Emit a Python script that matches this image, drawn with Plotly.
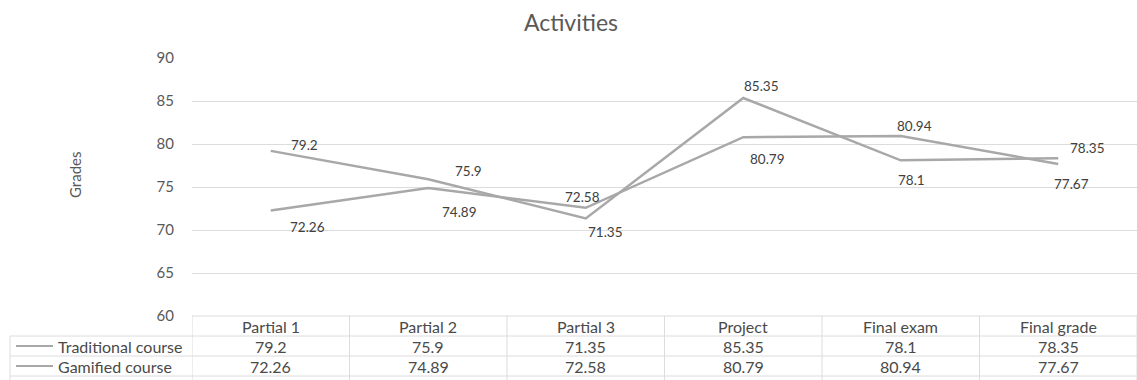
import plotly.graph_objects as go

categories = ["Partial 1", "Partial 2", "Partial 3", "Project", "Final exam", "Final grade"]
series_names = ["Traditional course", "Gamified course"]
traditional = [79.2, 75.9, 71.35, 85.35, 78.1, 78.35]
gamified = [72.26, 74.89, 72.58, 80.79, 80.94, 77.67]
y_ticks = [60, 65, 70, 75, 80, 85, 90]

W, H = 1137, 380
ML, MR, MT, MB = 192, 0, 58, 64
PH = H - MT - MB
PW = W - ML - MR

LINE = "#a8a8a8"
GRID = "#dcdcdc"
TXT = "#404040"
FONT = "Lato"

# label offsets (px) per point: (dx, dy up)
trad_off = [(34, 6), (40, 8), (20, -14), (18, 12), (11, -20), (29, 10)]
gam_off = [(37, -16), (31, -24), (-3, 11), (24, -22), (14, 10), (13, -20)]

fig = go.Figure()
idx = list(range(len(categories)))
for name, vals in zip(series_names, [traditional, gamified]):
    fig.add_trace(go.Scatter(x=idx, y=vals, mode="lines", name=name,
                             line=dict(color=LINE, width=2.5), showlegend=False))

ann = []
for vals, offs in [(traditional, trad_off), (gamified, gam_off)]:
    for i, (v, (dx, dy)) in enumerate(zip(vals, offs)):
        ann.append(dict(x=i, y=v, xref="x", yref="y", text=str(v), showarrow=False,
                        xshift=dx, yshift=dy, xanchor="center", yanchor="middle",
                        font=dict(family=FONT, size=13.5, color=TXT)))

def py(pix):
    return (H - MB - pix) / PH

def px(pix):
    return (pix - ML) / PW

TFONT = dict(family=FONT, size=16, color="#4a4a4a")
shapes = []
row_tops = [316, 336, 356, 376]
n = len(categories)
shapes.append(dict(type="line", xref="x", yref="paper", x0=-0.5, x1=n - 0.5,
                   y0=py(316), y1=py(316), line=dict(color=GRID, width=1)))
for yy in row_tops[1:]:
    shapes.append(dict(type="line", xref="paper", yref="paper", x0=px(10), x1=1,
                       y0=py(yy), y1=py(yy), line=dict(color=GRID, width=1)))
for k in range(n + 1):
    shapes.append(dict(type="line", xref="x", yref="paper", x0=k - 0.5, x1=k - 0.5,
                       y0=py(316), y1=py(390), line=dict(color=GRID, width=1)))
shapes.append(dict(type="line", xref="paper", yref="paper", x0=px(10), x1=px(10),
                   y0=py(336), y1=py(390), line=dict(color=GRID, width=1)))

for i, c in enumerate(categories):
    ann.append(dict(x=i, y=py(326), xref="x", yref="paper", text=c, showarrow=False,
                    xanchor="center", yanchor="middle", font=TFONT))
for r, (name, vals) in enumerate(zip(series_names, [traditional, gamified])):
    ycen = py(346 + 20 * r)
    for i, v in enumerate(vals):
        ann.append(dict(x=i, y=ycen, xref="x", yref="paper", text=str(v), showarrow=False,
                        xanchor="center", yanchor="middle", font=TFONT))
    ann.append(dict(x=px(56), y=ycen, xref="paper", yref="paper", text=name,
                    showarrow=False, xanchor="left", yanchor="middle", font=TFONT))
    shapes.append(dict(type="line", xref="paper", yref="paper", x0=px(16), x1=px(53),
                       y0=ycen, y1=ycen, line=dict(color=LINE, width=2)))

ann.append(dict(x=px(75), y=py(175), xref="paper", yref="paper", text="Grades", textangle=-90,
                showarrow=False, font=dict(family=FONT, size=15, color="#595959"),
                xanchor="center", yanchor="middle"))

fig.update_layout(
    width=W, height=H, margin=dict(l=ML, r=MR, t=MT, b=MB),
    paper_bgcolor="white", plot_bgcolor="white",
    title=dict(text="Activities", x=571 / W, xref="container", xanchor="center",
               y=1 - 23 / H, yref="container", yanchor="middle",
               font=dict(family=FONT, size=23, color="#595959")),
    xaxis=dict(range=[-0.5, n - 0.5], showticklabels=False, showgrid=False, zeroline=False,
               showline=False, fixedrange=True),
    yaxis=dict(range=[60, 90], tickvals=y_ticks, showgrid=True, gridcolor=GRID, gridwidth=1,
               zeroline=False, showline=False, ticks="", ticklabelstandoff=17,
               tickfont=dict(family=FONT, size=15, color="#595959")),
    annotations=ann, shapes=shapes, showlegend=False,
)

fig.write_html("out.html")
